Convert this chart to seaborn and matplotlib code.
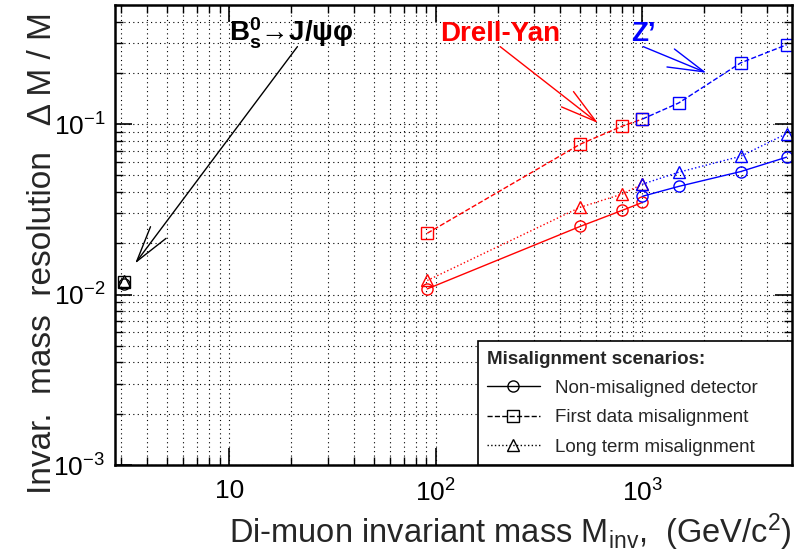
import numpy as np
import pandas as pd
import matplotlib
matplotlib.use("Agg")
import matplotlib.pyplot as plt
import seaborn as sns
from matplotlib.lines import Line2D
from matplotlib.ticker import FixedLocator, FixedFormatter, LogLocator, NullFormatter

# B_s -> J/psi phi point
bs_mass = [3.1]
bs_nomis = [0.0115]
bs_first = [0.0118]
bs_long = [0.0120]

# Drell-Yan
dy_mass = [91, 500, 800, 1000]
dy_nomis = [0.0108, 0.0251, 0.0312, 0.0347]
dy_first = [0.0229, 0.0762, 0.0973, 0.107]
dy_long = [0.0121, 0.0325, 0.0389, 0.0444]

# Z'
zp_mass = [1000, 1500, 3000, 5000]
zp_nomis = [0.0377, 0.0431, 0.0527, 0.064]
zp_first = [0.107, 0.133, 0.229, 0.292]
zp_long = [0.0444, 0.0522, 0.0648, 0.0880]

scenarios = ["Non-misaligned detector", "First data misalignment", "Long term misalignment"]
styles = {"Non-misaligned detector": ("-", "o"),
          "First data misalignment": ("--", "s"),
          "Long term misalignment": (":", "^")}

x_ticks = [10, 100, 1000]
x_ticklabels = ["10", "$10^{2}$", "$10^{3}$"]
y_ticks = [1e-3, 1e-2, 1e-1]
y_ticklabels = ["$10^{-3}$", "$10^{-2}$", "$10^{-1}$"]

sns.set_style("ticks")
plt.rcParams["font.family"] = ["Liberation Sans", "DejaVu Sans"]
plt.rcParams["mathtext.fontset"] = "custom"
plt.rcParams["mathtext.rm"] = "Liberation Sans"
plt.rcParams["mathtext.it"] = "Liberation Sans:italic"
plt.rcParams["mathtext.bf"] = "Liberation Sans:bold"

fig = plt.figure(figsize=(7.95, 5.54), dpi=100)
ax = fig.add_axes([0.1447, 0.1606, 0.8513, 0.8304])

def draw(mass, values, color, scen):
    ls, mk = styles[scen]
    df = pd.DataFrame({"mass": mass, "res": values})
    sns.lineplot(data=df, x="mass", y="res", ax=ax, color=color, linestyle=ls,
                 linewidth=1.0, marker=mk, markersize=8, markerfacecolor="none",
                 markeredgecolor=color, markeredgewidth=1.0, sort=True)

for scen, vals in zip(scenarios, [dy_nomis, dy_first, dy_long]):
    draw(dy_mass, vals, "#ff0000", scen)
for scen, vals in zip(scenarios, [zp_nomis, zp_first, zp_long]):
    draw(zp_mass, vals, "#0000ff", scen)
for scen, vals in zip(scenarios, [bs_nomis, bs_first, bs_long]):
    draw(bs_mass, vals, "black", scen)

ax.set_xscale("log")
ax.set_yscale("log")
ax.set_xlim(2.8, 5300)
ax.set_ylim(1e-3, 0.5)

ax.xaxis.set_major_locator(FixedLocator(x_ticks))
ax.xaxis.set_major_formatter(FixedFormatter(x_ticklabels))
ax.yaxis.set_major_locator(FixedLocator(y_ticks))
ax.yaxis.set_major_formatter(FixedFormatter(y_ticklabels))
for axis in (ax.xaxis, ax.yaxis):
    axis.set_minor_locator(LogLocator(base=10, subs=np.arange(2, 10), numticks=20))
    axis.set_minor_formatter(NullFormatter())

ax.tick_params(which="both", direction="in", top=True, right=True, colors="black")
ax.tick_params(which="major", length=12, width=1.2, labelsize=19)
ax.tick_params(which="minor", length=6, width=1.0)
ax.tick_params(axis="x", which="major", pad=10)
ax.tick_params(axis="y", which="major", pad=7)

ax.grid(True, which="both", color="black", linestyle=(0, (1, 3)), linewidth=0.8)
for sp in ax.spines.values():
    sp.set_linewidth(1.8)
    sp.set_color("black")

ax.set_xlabel(r"Di-muon invariant mass M$_{\rm inv}$,  (GeV/c$^{2}$)", fontsize=23.5, loc="right")
ax.set_ylabel("Invar.  mass  resolution   Δ M / M", fontsize=24, loc="top")
ax.xaxis.set_label_coords(1.0, -0.10)
ax.yaxis.set_label_coords(-0.085, 0.985)

# annotations
arrow = dict(arrowstyle="->,head_length=2.6,head_width=0.7", lw=1.0, shrinkA=0, shrinkB=0, mutation_scale=10)
ax.text(10, 0.34, r"$\mathbf{B_s^0}$→J/ψφ", fontsize=20, fontweight="bold", color="black",
        ha="left", va="center")
ax.annotate("", xy=(3.5, 0.0152), xytext=(21.4, 0.285), arrowprops=dict(arrow, color="black"))
ax.text(205, 0.34, "Drell-Yan", fontsize=20, fontweight="bold", color="#ff0000",
        ha="center", va="center")
ax.annotate("", xy=(611, 0.1014), xytext=(205, 0.285), arrowprops=dict(arrow, color="#ff0000"))
ax.text(1010, 0.34, "Z’", fontsize=20, fontweight="bold", color="#0000ff",
        ha="center", va="center")
ax.annotate("", xy=(2048, 0.2), xytext=(1010, 0.285), arrowprops=dict(arrow, color="#0000ff"))

handles = []
for scen in scenarios:
    ls, mk = styles[scen]
    handles.append(Line2D([], [], color="black", linestyle=ls, linewidth=1.0, marker=mk,
                          markersize=8, markerfacecolor="none", markeredgecolor="black"))
leg = ax.legend(handles, scenarios, loc="lower left", bbox_to_anchor=(0.536, 0.0, 0.464, 0.27),
                mode="expand", borderaxespad=0, fontsize=13.5,
                title="Misalignment scenarios:", title_fontproperties={"weight": "bold", "size": 13.5},
                frameon=True, fancybox=False, edgecolor="black", framealpha=1,
                handlelength=2.8, handletextpad=0.8, labelspacing=0.65, borderpad=0.5)
leg.get_frame().set_linewidth(1.2)
leg._legend_box.align = "left"

fig.savefig("out.png", dpi=100)
